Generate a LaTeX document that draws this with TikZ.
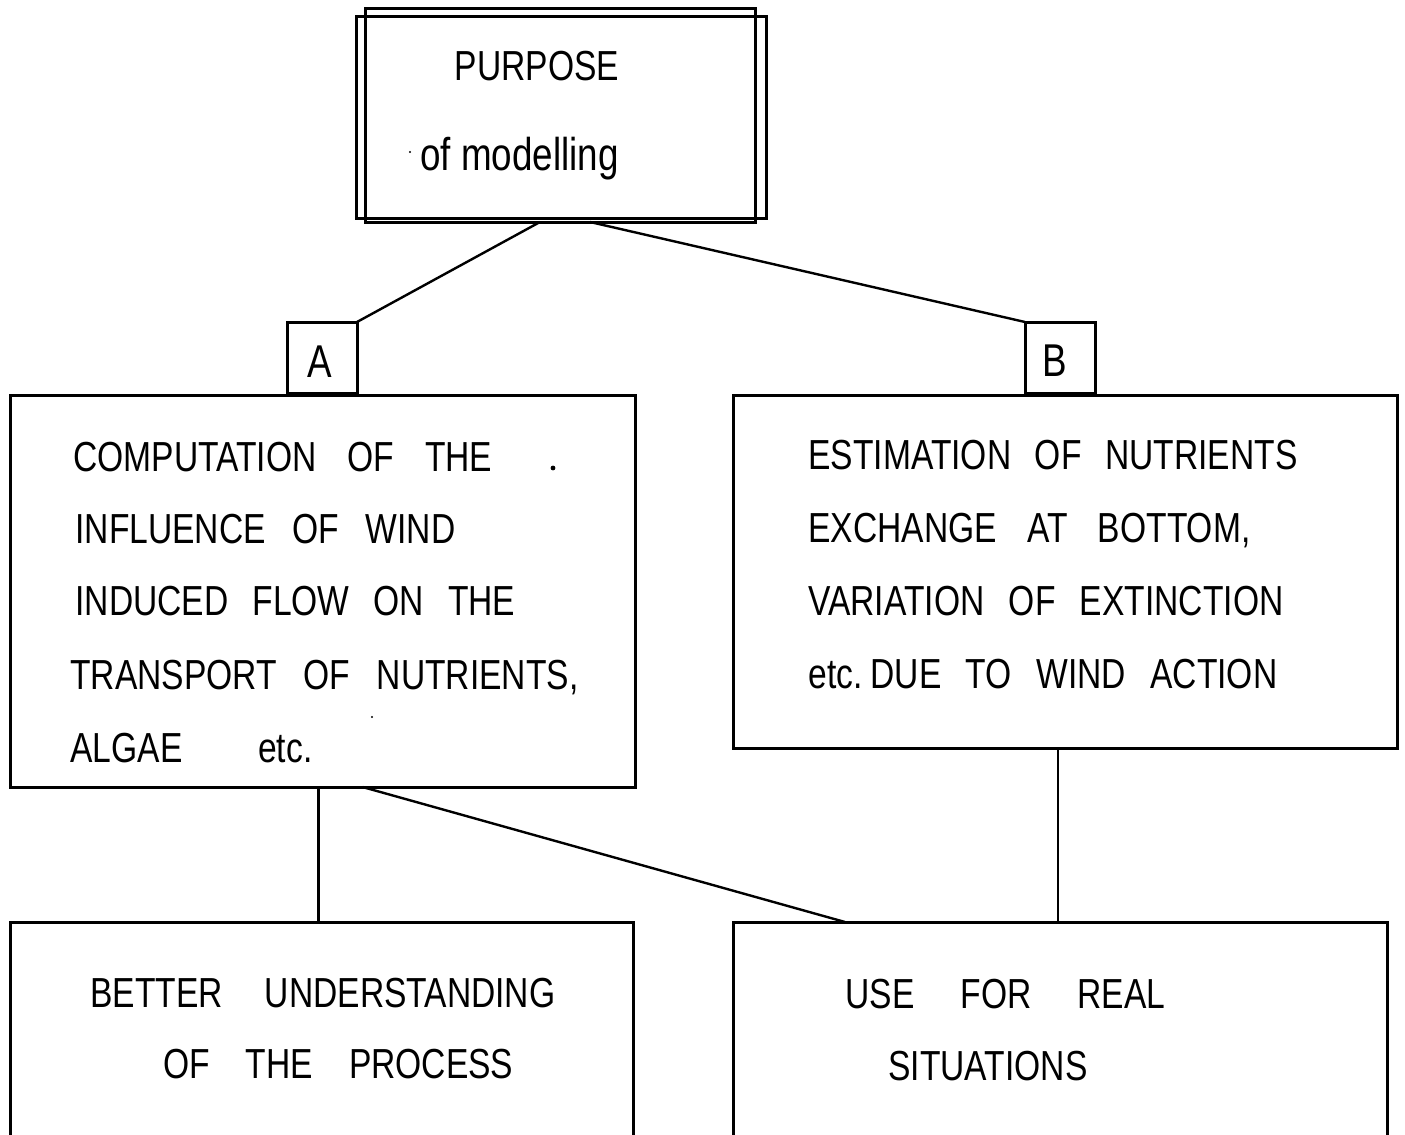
\documentclass[tikz,border=0pt]{standalone}
\usepackage{fontspec}
\newfontfamily\iso[FakeStretch=0.8]{Liberation Sans}
\usetikzlibrary{calc}
\begin{document}
\begin{tikzpicture}[x=0.5pt,y=-0.5pt,
  box/.style={draw,line width=1.5pt,inner sep=0pt,outer sep=0pt,rectangle},
  ghost/.style={inner sep=0pt,outer sep=0pt,rectangle},
  conn/.style={line width=1.2pt},
  txt/.style={anchor=base west,inner sep=0pt,font=\iso\fontsize{21}{25}\selectfont},
  ctxt/.style={anchor=base,inner sep=0pt,font=\iso\fontsize{21}{25}\selectfont}]
\useasboundingbox (0,0) rectangle (1405,1135);
% top double box
\node[box,minimum width=195pt,minimum height=107pt] (P1) at (560,115) {};
\node[box,minimum width=205pt,minimum height=101pt] (P2) at (561,117) {};
\node[ctxt] (t0) at (537,80) {PURPOSE};
\node[txt,font=\iso\fontsize{23}{27}\selectfont] (t0b) at (420,170) {of\kern5pt modelling};
% labels A, B
\node[box,minimum width=35pt,minimum height=35.5pt] (A) at (322,357.5) {};
\node[ctxt,font=\iso\fontsize{23}{26}\selectfont] (tA) at (320,377) {A};
\node[box,minimum width=35pt,minimum height=35.5pt] (B) at (1060,357.5) {};
\node[ctxt,font=\iso\fontsize{23}{26}\selectfont] (tB) at (1055,376) {B};
% middle boxes
\node[box,minimum width=312.5pt,minimum height=196pt] (L) at (322.5,591) {};
\node[box,minimum width=332pt,minimum height=176.5pt] (R) at (1065,571.5) {};
% bottom open boxes
\node[ghost,minimum width=311.5pt,minimum height=110pt] (BL) at (321.5,1032) {};
\node[ghost,minimum width=327pt,minimum height=110pt] (BR) at (1060,1032) {};
\draw[line width=1.5pt] (BL.south west) -- (BL.north west) -- (BL.north east) -- (BL.south east);
\draw[line width=1.5pt] (BR.south west) -- (BR.north west) -- (BR.north east) -- (BR.south east);
% connectors
\draw[conn] ([xshift=-10pt]P1.south) -- (A.north east);
\draw[conn] ([xshift=15pt]P1.south) -- (B.north west);
\draw[conn] ([xshift=-2pt]L.south) -- ([xshift=-1.5pt]BL.north);
\draw[conn] ([xshift=20pt]L.south) -- ([xshift=-107.5pt]BR.north);
\draw[conn] ([xshift=-3.5pt]R.south) -- ([xshift=-1pt]BR.north);
% left box text
\node[txt] (l1) at (73,471) {\makebox[209.5pt][s]{COMPUTATION OF THE}};
\node[txt] (l2) at (75,543) {\makebox[190pt][s]{INFLUENCE OF WIND}};
\node[txt] (l3) at (75,615) {\makebox[220pt][s]{INDUCED FLOW ON THE}};
\node[txt] (l4) at (70,689) {\makebox[254pt][s]{TRANSPORT OF NUTRIENTS,}};
\node[txt] (l5) at (70,762) {\makebox[121pt][s]{ALGAE etc.}};
% right box text
\node[txt] (r1) at (808,469) {\makebox[244.5pt][s]{ESTIMATION OF NUTRIENTS}};
\node[txt] (r2) at (808,542) {\makebox[221pt][s]{EXCHANGE AT BOTTOM,}};
\node[txt] (r3) at (808,615) {\makebox[237.5pt][s]{VARIATION OF EXTINCTION}};
\node[txt] (r4) at (808,688) {\makebox[234.5pt][s]{etc.\kern4pt DUE TO WIND ACTION}};
% bottom texts
\node[txt] (b1) at (90,1007) {\makebox[232.5pt][s]{BETTER UNDERSTANDING}};
\node[txt] (b2) at (163,1078) {\makebox[175pt][s]{OF THE PROCESS}};
\node[txt] (b3) at (845,1008) {\makebox[160pt][s]{USE FOR REAL}};
\node[txt] (b4) at (888,1080) {SITUATIONS};
% specks
\fill (553,468) circle (1.2pt);
\fill (372,717) circle (0.6pt);
\fill (410,152) circle (0.6pt);
\end{tikzpicture}
\end{document}
